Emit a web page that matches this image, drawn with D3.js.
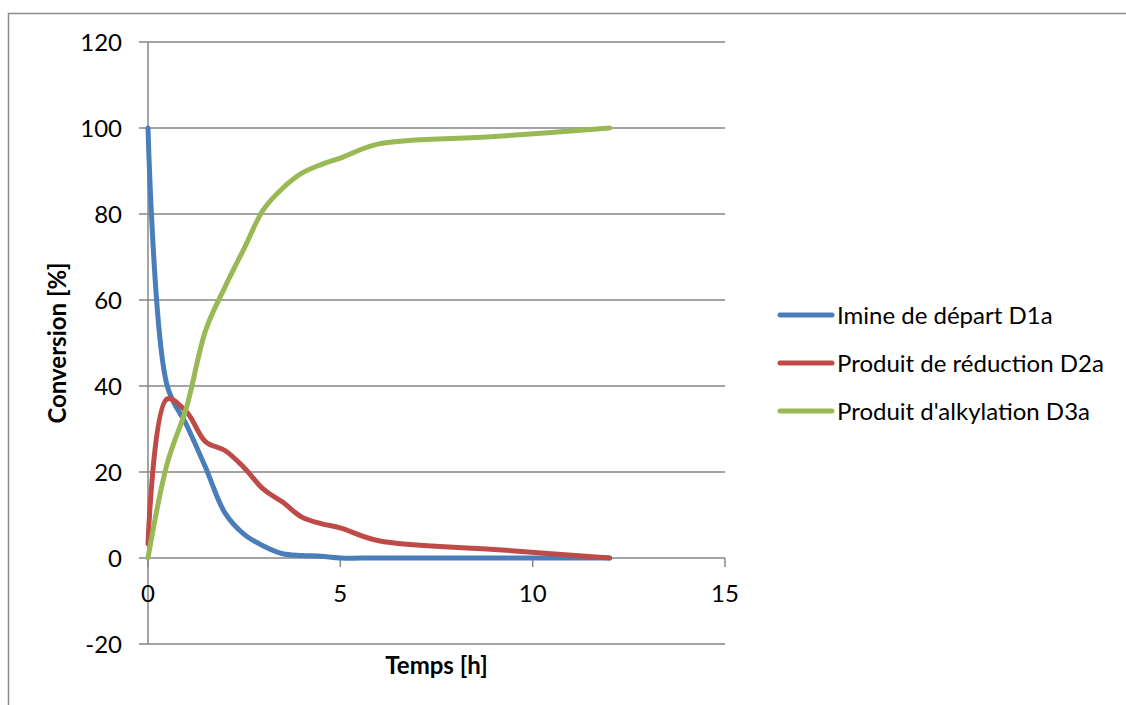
<!DOCTYPE html>
<html>
<head>
<meta charset="utf-8">
<script src="https://d3js.org/d3.v7.min.js"></script>
<style>
  body { margin: 0; background: #fff; }
  text { font-family: Lato, "Open Sans", sans-serif; fill: #000; }
</style>
</head>
<body>
<div id="chart"></div>
<script>
// time points (h)
var temps = [0, 0.5, 1, 1.5, 2, 2.5, 3, 3.5, 4, 4.5, 5, 6, 9, 12];
// conversion values (%)
var imineD1a = [100, 40, 31, 21, 10.5, 5.5, 2.8, 1, 0.6, 0.4, 0, 0, 0, 0];
var reductionD2a = [3.3, 37, 34, 27, 25, 21, 16, 13, 9.5, 8, 7, 4, 2, 0];
var alkylationD3a = [0, 22, 35, 53, 63, 72, 81, 86, 89.5, 91.5, 93, 96.3, 98, 100];

var seriesNames = ["Imine de départ D1a", "Produit de réduction D2a", "Produit d'alkylation D3a"];
var seriesColors = ["#4a7ebb", "#be4b48", "#98b954"];
var yTicks = [-20, 0, 20, 40, 60, 80, 100, 120];
var xTicks = [0, 5, 10, 15];

var W = 1126, H = 705;
var svg = d3.select("#chart").append("svg")
  .attr("width", W)
  .attr("height", H);

svg.append("rect").attr("width", W).attr("height", H).attr("fill", "#fff");

// chart frame (runs off right / bottom)
svg.append("rect")
  .attr("x", 8.5).attr("y", 13.5)
  .attr("width", W).attr("height", H)
  .attr("fill", "none")
  .attr("stroke", "#8c8c8c")
  .attr("stroke-width", 1.5);

var x = d3.scaleLinear().domain([0, 15]).range([148, 725]);
var y = d3.scaleLinear().domain([-20, 120]).range([644, 42]);

// horizontal gridlines + left ticks
svg.append("g")
  .selectAll("line")
  .data(yTicks)
  .enter()
  .append("line")
  .attr("x1", x(0) - 9)
  .attr("x2", x(15))
  .attr("y1", function (d) { return y(d); })
  .attr("y2", function (d) { return y(d); })
  .attr("stroke", "#868686")
  .attr("stroke-width", 1.5);

// y axis line
svg.append("line")
  .attr("x1", x(0)).attr("x2", x(0))
  .attr("y1", y(120)).attr("y2", y(-20))
  .attr("stroke", "#868686")
  .attr("stroke-width", 1.5);

// x ticks on the zero line
svg.append("g")
  .selectAll("line")
  .data(xTicks)
  .enter()
  .append("line")
  .attr("x1", function (d) { return x(d); })
  .attr("x2", function (d) { return x(d); })
  .attr("y1", y(0))
  .attr("y2", y(0) + 9)
  .attr("stroke", "#868686")
  .attr("stroke-width", 1.5);

// y tick labels
svg.append("g")
  .selectAll("text")
  .data(yTicks)
  .enter()
  .append("text")
  .attr("x", 122)
  .attr("y", function (d) { return y(d); })
  .attr("dy", "0.36em")
  .attr("text-anchor", "end")
  .style("font-size", "24px")
  .text(function (d) { return d; });

// x tick labels
svg.append("g")
  .selectAll("text")
  .data(xTicks)
  .enter()
  .append("text")
  .attr("x", function (d) { return x(d); })
  .attr("y", 602)
  .attr("text-anchor", "middle")
  .style("font-size", "24px")
  .text(function (d) { return d; });

// axis titles
svg.append("text")
  .attr("transform", "translate(66," + (y(50)) + ") rotate(-90)")
  .attr("text-anchor", "middle")
  .style("font-size", "24px")
  .style("font-weight", "bold")
  .text("Conversion [%]");

svg.append("text")
  .attr("x", (x(0) + x(15)) / 2)
  .attr("y", 674)
  .attr("text-anchor", "middle")
  .style("font-size", "24px")
  .style("font-weight", "bold")
  .text("Temps [h]");

// series, smoothed like Excel
var allSeries = [imineD1a, reductionD2a, alkylationD3a];
var line = d3.line()
  .x(function (d, i) { return x(temps[i]); })
  .y(function (d) { return y(d); })
  .curve(d3.curveCatmullRom.alpha(0.5));

allSeries.forEach(function (s, k) {
  svg.append("path")
    .attr("d", line(s))
    .attr("fill", "none")
    .attr("stroke", seriesColors[k])
    .attr("stroke-width", 5)
    .attr("stroke-linecap", "round")
    .attr("stroke-linejoin", "round");
});

// legend
var legendY = [315, 363, 411];
var legend = svg.append("g");
seriesNames.forEach(function (name, k) {
  legend.append("line")
    .attr("x1", 780).attr("x2", 832)
    .attr("y1", legendY[k]).attr("y2", legendY[k])
    .attr("stroke", seriesColors[k])
    .attr("stroke-width", 5)
    .attr("stroke-linecap", "round");
  legend.append("text")
    .attr("x", 837)
    .attr("y", legendY[k])
    .attr("dy", "0.36em")
    .style("font-size", "24px")
    .text(name);
});
</script>
</body>
</html>
